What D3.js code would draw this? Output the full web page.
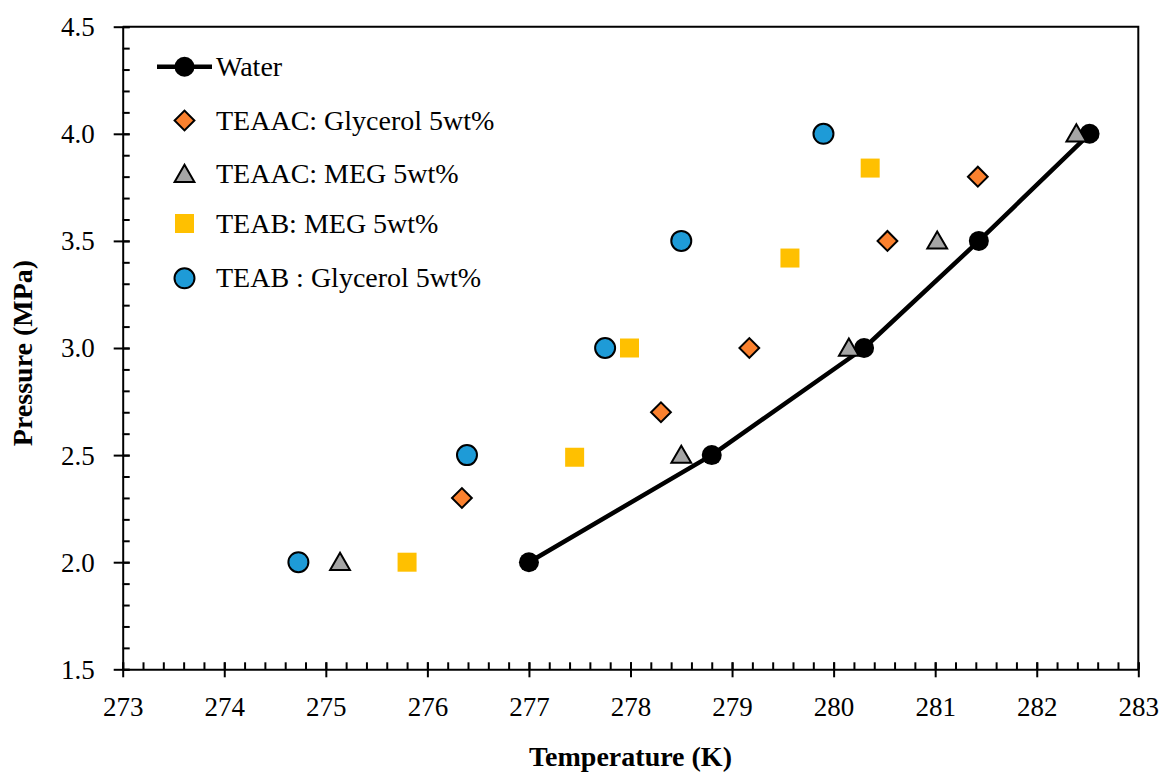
<!DOCTYPE html>
<html>
<head>
<meta charset="utf-8">
<script src="https://cdn.jsdelivr.net/npm/d3@7"></script>
<style>
  html, body { margin: 0; padding: 0; background: #fff; }
  svg { display: block; }
  text { font-family: "Liberation Serif", "Times New Roman", serif; fill: #000; }
</style>
</head>
<body>
<svg id="chart" width="1164" height="772"></svg>
<script>
// Hydrate equilibrium data: temperature (K) vs pressure (MPa)
const waterT      = [277.00, 278.80, 280.30, 281.43, 282.52];
const waterP      = [2.0, 2.5, 3.0, 3.5, 4.0];
const teaacGlyT   = [276.34, 278.30, 279.17, 280.53, 281.42];
const teaacGlyP   = [2.3, 2.7, 3.0, 3.5, 3.8];
const teaacMegT   = [275.14, 278.50, 280.15, 281.02, 282.39];
const teaacMegP   = [2.0, 2.5, 3.0, 3.5, 4.0];
const teabMegT    = [275.80, 277.45, 277.99, 279.57, 280.36];
const teabMegP    = [2.0, 2.49, 3.0, 3.42, 3.84];
const teabGlyT    = [274.73, 276.39, 277.75, 278.50, 279.90];
const teabGlyP    = [2.0, 2.5, 3.0, 3.5, 4.0];

const xTicks = [273, 274, 275, 276, 277, 278, 279, 280, 281, 282, 283];
const yTicks = [1.5, 2.0, 2.5, 3.0, 3.5, 4.0, 4.5];
const seriesNames = ["Water", "TEAAC: Glycerol 5wt%", "TEAAC: MEG 5wt%", "TEAB: MEG 5wt%", "TEAB : Glycerol 5wt%"];

const svg = d3.select("#chart");
const plotL = 122.7, plotR = 1138.3, plotT = 26.7, plotB = 669.3;
const tickFont = "27px", labelFont = "28px";

const x = d3.scaleLinear().domain([273, 283]).range([plotL, plotR]);
const y = d3.scaleLinear().domain([1.5, 4.5]).range([plotB, plotT]);

const zip = (t, p) => t.map((v, i) => ({ t: v, p: p[i] }));

// Frame (top and right edges)
svg.append("path")
  .attr("d", `M${plotL},${plotT}H${plotR}V${plotB}`)
  .attr("fill", "none").attr("stroke", "#000").attr("stroke-width", 2);

// X axis: minor ticks inside, major ticks crossing
const minorX = d3.range(273, 283.001, 0.2);
const xMinor = svg.append("g").attr("transform", `translate(0,${plotB})`)
  .call(d3.axisBottom(x).tickValues(minorX).tickSizeInner(-7).tickSizeOuter(0).tickFormat(""));
xMinor.select(".domain").remove();
xMinor.selectAll("line").attr("stroke-width", 2);

const xAxis = svg.append("g").attr("transform", `translate(0,${plotB})`)
  .call(d3.axisBottom(x).tickValues(xTicks).tickSizeOuter(0).tickPadding(0).tickFormat(d3.format("d")));
xAxis.select(".domain").attr("stroke-width", 2);
xAxis.selectAll(".tick line").attr("y1", -7).attr("y2", 8).attr("stroke-width", 2);
xAxis.selectAll(".tick text").attr("y", 47).attr("dy", null)
  .style("font-size", tickFont).style("font-family", "'Liberation Serif', serif");

// Y axis
const minorY = d3.range(1.5, 4.5001, 0.1);
const yMinor = svg.append("g").attr("transform", `translate(${plotL},0)`)
  .call(d3.axisLeft(y).tickValues(minorY).tickSizeInner(-7).tickSizeOuter(0).tickFormat(""));
yMinor.select(".domain").remove();
yMinor.selectAll("line").attr("stroke-width", 2);

const yAxis = svg.append("g").attr("transform", `translate(${plotL},0)`)
  .call(d3.axisLeft(y).tickValues(yTicks).tickSizeOuter(0).tickFormat(d3.format(".1f")));
yAxis.select(".domain").attr("stroke-width", 2);
yAxis.selectAll(".tick line").attr("x1", -9).attr("x2", 7).attr("stroke-width", 2);
yAxis.selectAll(".tick text").attr("x", -28).attr("dy", "0.33em")
  .style("font-size", tickFont).style("font-family", "'Liberation Serif', serif");

// Axis titles
svg.append("text")
  .attr("x", (plotL + plotR) / 2).attr("y", 766)
  .attr("text-anchor", "middle")
  .style("font-size", labelFont).style("font-weight", "bold")
  .text("Temperature (K)");

svg.append("text")
  .attr("transform", `translate(32,${(plotT + plotB) / 2 + 5}) rotate(-90)`)
  .attr("text-anchor", "middle")
  .style("font-size", labelFont).style("font-weight", "bold")
  .text("Pressure (MPa)");

// Marker shapes
const sym = {
  circle: d3.symbol().type(d3.symbolCircle).size(Math.PI * 10 * 10),
  diamond: d3.symbol().type(d3.symbolSquare).size(14 * 14),
  triangle: d3.symbol().type(d3.symbolTriangle).size(170),
  square: d3.symbol().type(d3.symbolSquare).size(19 * 19)
};

const series = [
  { name: seriesNames[1], data: zip(teaacGlyT, teaacGlyP), shape: "diamond", fill: "#FB812E", stroke: "#000", rot: 45 },
  { name: seriesNames[2], data: zip(teaacMegT, teaacMegP), shape: "triangle", fill: "#A5A5A5", stroke: "#000", rot: 0 },
  { name: seriesNames[3], data: zip(teabMegT, teabMegP), shape: "square", fill: "#FFC000", stroke: "none", rot: 0 },
  { name: seriesNames[4], data: zip(teabGlyT, teabGlyP), shape: "circle", fill: "#1E9BD7", stroke: "#000", rot: 0 }
];

// Water line with filled circles
const water = zip(waterT, waterP);
svg.append("path")
  .datum(water)
  .attr("d", d3.line().x(d => x(d.t)).y(d => y(d.p)))
  .attr("fill", "none").attr("stroke", "#000").attr("stroke-width", 4.5).attr("stroke-linejoin", "round");
svg.append("g").selectAll("circle").data(water).join("circle")
  .attr("cx", d => x(d.t)).attr("cy", d => y(d.p)).attr("r", 10).attr("fill", "#000");

// Scatter series
series.forEach(s => {
  svg.append("g").selectAll("path").data(s.data).join("path")
    .attr("d", sym[s.shape]())
    .attr("transform", d => `translate(${x(d.t)},${y(d.p) + (s.shape === "triangle" ? 2 : 0)}) rotate(${s.rot})`)
    .attr("fill", s.fill)
    .attr("stroke", s.stroke)
    .attr("stroke-width", 2);
});

// Legend
const legX = 184.5, legText = 216, legRows = [66.7, 120.5, 174.3, 223.5, 278.3];
const leg = svg.append("g");
leg.append("line").attr("x1", 157).attr("x2", 212).attr("y1", legRows[0]).attr("y2", legRows[0])
  .attr("stroke", "#000").attr("stroke-width", 4.5);
leg.append("circle").attr("cx", legX).attr("cy", legRows[0]).attr("r", 10).attr("fill", "#000");
leg.append("text").attr("x", legText).attr("y", legRows[0] + 9).style("font-size", labelFont).text(seriesNames[0]);

series.forEach((s, i) => {
  const ry = legRows[i + 1];
  leg.append("path")
    .attr("d", sym[s.shape]())
    .attr("transform", `translate(${legX},${ry + (s.shape === "triangle" ? 2 : 0)}) rotate(${s.rot})`)
    .attr("fill", s.fill).attr("stroke", s.stroke).attr("stroke-width", 2);
  leg.append("text").attr("x", legText).attr("y", ry + 9).style("font-size", labelFont).text(s.name);
});
</script>
</body>
</html>
